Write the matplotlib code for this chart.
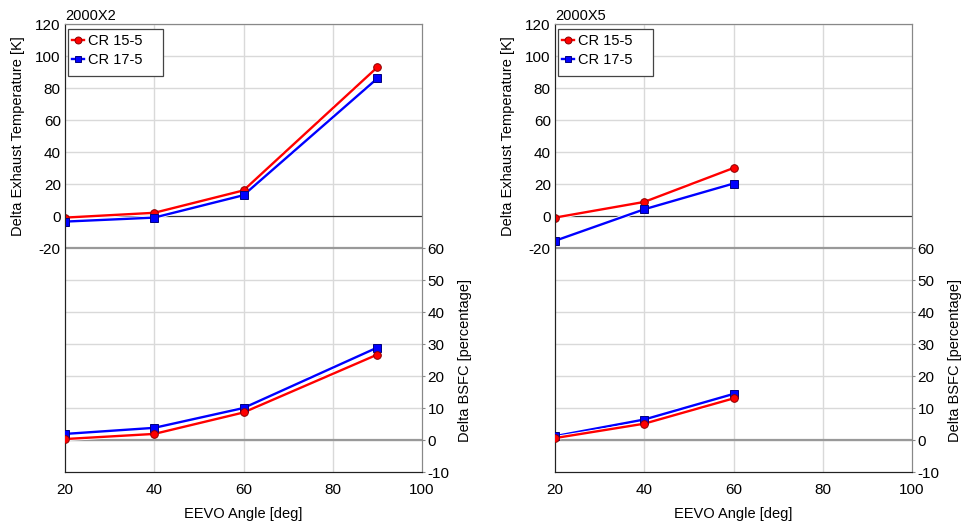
import matplotlib
matplotlib.use("Agg")
import matplotlib.pyplot as plt
import matplotlib.patheffects as pe
from matplotlib.lines import Line2D
from matplotlib.patches import Rectangle

plt.rcParams['font.family'] = ['Liberation Sans', 'DejaVu Sans']
plt.rcParams['font.size'] = 10
plt.rcParams['axes.unicode_minus'] = False

# EEVO angles for each engine point
angles_x2 = [20, 40, 60, 90]
angles_x5 = [20, 40, 60]

# delta exhaust temperature [K]
temp_x2_cr15 = [-1, 2, 16, 93]
temp_x2_cr17 = [-3.5, -1, 13, 86]
temp_x5_cr15 = [-1, 8.8, 30]
temp_x5_cr17 = [-15.5, 4.2, 20.3]

# delta BSFC [%]
bsfc_x2_cr15 = [0.3, 1.9, 8.6, 26.7]
bsfc_x2_cr17 = [1.9, 3.8, 10.0, 28.9]
bsfc_x5_cr15 = [0.6, 5.1, 13.0]
bsfc_x5_cr17 = [1.2, 6.4, 14.4]

titles = ['2000X2', '2000X5']
series = ['CR 15-5', 'CR 17-5']

fig = plt.figure(figsize=(9.74, 5.25), dpi=100)

W, H = 974.0, 525.0
panels = [
    (65, angles_x2, temp_x2_cr15, temp_x2_cr17, bsfc_x2_cr15, bsfc_x2_cr17, titles[0]),
    (555, angles_x5, temp_x5_cr15, temp_x5_cr17, bsfc_x5_cr15, bsfc_x5_cr17, titles[1]),
]

outline = [pe.Stroke(linewidth=3.0, foreground='white'), pe.Normal()]
red_style = dict(marker='o', ms=5.5, mfc='#ff0000', mec='#8b0000', mew=0.7)
blue_style = dict(marker='s', ms=5.5, mfc='#0000ff', mec='#000080', mew=0.7)


def draw(a, x, y, color, mstyle):
    # line with white halo, then markers without it
    a.plot(x, y, color=color, lw=1.7, path_effects=outline, zorder=3)
    a.plot(x, y, ls='none', zorder=4, **mstyle)


for left, ang, t15, t17, b15, b17, title in panels:
    ax = fig.add_axes([left / W, (H - 472) / H, 357 / W, 448 / H])
    ax2 = ax.twinx()

    ax.set_xlim(20, 100)
    ax.set_ylim(-160, 120)
    ax2.set_ylim(-10, 130)
    ax.set_yticks(range(-20, 121, 20))
    ax2.set_yticks(range(-10, 61, 10))
    ax.set_xticks(range(20, 101, 20))

    # grid
    for g in range(-140, 121, 20):
        if g in (0, -20):
            continue
        ax.axhline(g, color='#d9d9d9', lw=1.0, zorder=0)
    for g in (40, 60, 80):
        ax.axvline(g, color='#d9d9d9', lw=1.0, zorder=0)
    ax.axhline(0, color='#333333', lw=0.9, zorder=1)
    ax.axhline(-20, color='#999999', lw=1.6, zorder=1)
    ax2.axhline(0, color='#999999', lw=1.6, zorder=1)

    draw(ax, ang, t15, '#ff0000', red_style)
    draw(ax, ang, t17, '#0000ff', blue_style)
    draw(ax2, ang, b17, '#0000ff', blue_style)
    draw(ax2, ang, b15, '#ff0000', red_style)

    for a in (ax, ax2):
        a.spines['left'].set_color('#222222')
        a.spines['bottom'].set_color('#222222')
        a.spines['top'].set_color('#888888')
        a.spines['right'].set_color('#888888')
    ax.tick_params(axis='y', length=0, pad=3, labelsize=11)
    ax.tick_params(axis='x', length=0, pad=8, labelsize=11)
    ax2.tick_params(axis='y', length=2.5, color='#888888', pad=1.5, labelsize=11)

    ax.set_ylabel('Delta Exhaust Temperature [K]', fontsize=10.5)
    ax.yaxis.set_label_coords(-0.112, 0.75)
    ax2.set_ylabel('Delta BSFC [percentage]', fontsize=10.5)
    ax2.yaxis.set_label_coords(1.101, 0.25)
    ax.set_xlabel('EEVO Angle [deg]', fontsize=10.5, labelpad=7)

    ax.text(0.0, 1.003, title, transform=ax.transAxes, ha='left', va='bottom',
            fontsize=10.5)

    # legend box drawn by hand (wide right padding, like the original)
    box = Rectangle((3 / 357, (472 - 76) / 448), 95 / 357, 47 / 448,
                    transform=ax.transAxes, facecolor='white',
                    edgecolor='#444444', lw=0.9, zorder=9)
    ax2.add_patch(box)
    handles = [Line2D([], [], color='#ff0000', lw=1.7, **dict(red_style, ms=5)),
               Line2D([], [], color='#0000ff', lw=1.7, **dict(blue_style, ms=5))]
    leg = ax2.legend(handles=handles, labels=series, loc='upper left',
                     bbox_to_anchor=(4 / 357, (472 - 31) / 448), fontsize=10.5,
                     handlelength=0.8, handletextpad=0.3, borderpad=0.2,
                     labelspacing=0.35, borderaxespad=0.0, frameon=False)
    leg.set_zorder(10)

fig.savefig('out.png', dpi=100)
